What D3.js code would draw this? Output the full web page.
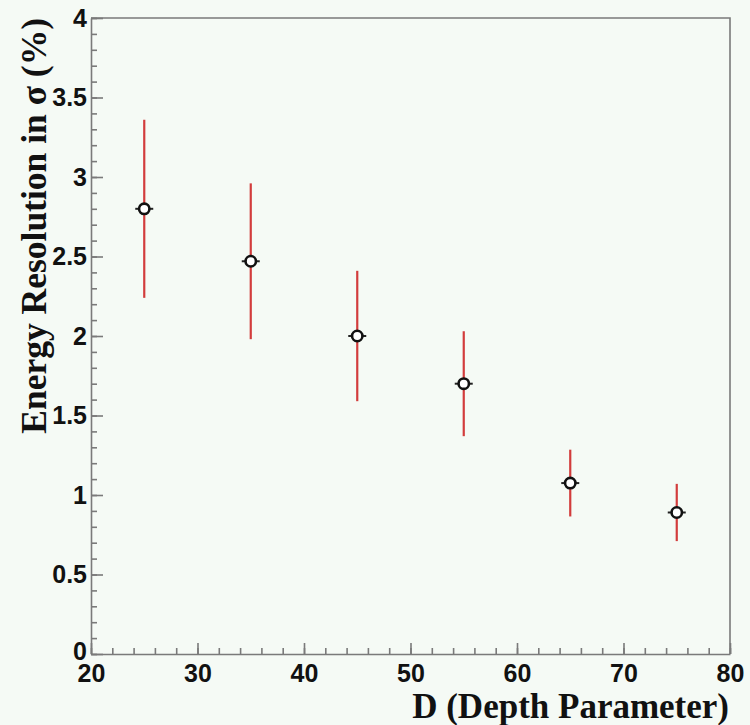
<!DOCTYPE html>
<html>
<head>
<meta charset="utf-8">
<script src="https://cdn.jsdelivr.net/npm/d3@7"></script>
<style>
  html, body { margin: 0; padding: 0; background: #f5faf5; }
  svg { display: block; }
</style>
</head>
<body>
<svg id="chart"></svg>
<script>
// values
var depth = [25, 35, 45, 55, 65, 75];
var resolution = [2.80, 2.47, 2.00, 1.70, 1.075, 0.89];
var resolutionError = [0.56, 0.49, 0.41, 0.33, 0.21, 0.18];

var xMajorTicks = [20, 30, 40, 50, 60, 70, 80];
var yMajorTicks = [0, 0.5, 1, 1.5, 2, 2.5, 3, 3.5, 4];

var xlabel = "D (Depth Parameter)",
    ylabel = "Energy Resolution in \u03c3 (%)";

var width = 750,
    height = 725,
    margin = {top: 18, right: 20, bottom: 71, left: 91},
    innerwidth = width - margin.left - margin.right,
    innerheight = height - margin.top - margin.bottom;

var x = d3.scaleLinear().domain([20, 80]).range([0, innerwidth]);
var y = d3.scaleLinear().domain([0, 4]).range([innerheight, 0]);

var svg = d3.select("#chart")
    .attr("width", width)
    .attr("height", height);

var g = svg.append("g")
    .attr("transform", "translate(" + margin.left + "," + margin.top + ")");

// frame (top and right)
g.append("path")
    .attr("d", "M0,0H" + innerwidth + "V" + innerheight)
    .attr("fill", "none")
    .attr("stroke", "#7a7a7a")
    .attr("stroke-width", 1.6);

// minor ticks
g.append("g")
    .attr("class", "y minor")
    .call(d3.axisLeft(y).tickValues(d3.range(0, 4.001, 0.1)).tickSize(-6).tickFormat(""))
    .call(function(s) { s.select(".domain").remove(); });

g.append("g")
    .attr("class", "x minor")
    .attr("transform", "translate(0," + innerheight + ")")
    .call(d3.axisBottom(x).tickValues(d3.range(20, 80.001, 2)).tickSize(-6).tickFormat(""))
    .call(function(s) { s.select(".domain").remove(); });

// major ticks and labels
g.append("g")
    .attr("class", "y axis")
    .call(d3.axisLeft(y).tickValues(yMajorTicks).tickSize(-12).tickSizeOuter(0).tickPadding(4).tickFormat(d3.format("")));

g.append("g")
    .attr("class", "x axis")
    .attr("transform", "translate(0," + innerheight + ")")
    .call(d3.axisBottom(x).tickValues(xMajorTicks).tickSize(-11).tickSizeOuter(0).tickPadding(10).tickFormat(d3.format("")));

g.selectAll(".minor line, .axis line, .axis .domain")
    .attr("stroke", "#7a7a7a")
    .attr("stroke-width", 1.6);

g.selectAll(".axis text")
    .attr("fill", "#111")
    .style("font-family", "'Liberation Sans', Arial, sans-serif")
    .style("font-weight", "bold")
    .style("font-size", "25px");

// "0" sits just above the x labels, as in the original
g.selectAll(".y.axis .tick text")
    .filter(function(d) { return d === 0; })
    .attr("dy", "0.2em");

// axis titles
svg.append("text")
    .attr("x", margin.left + innerwidth - 1)
    .attr("y", 718)
    .attr("text-anchor", "end")
    .style("font-family", "'Liberation Serif', 'Times New Roman', serif")
    .style("font-weight", "bold")
    .style("font-size", "35px")
    .attr("fill", "#111")
    .text(xlabel);

svg.append("text")
    .attr("transform", "translate(46," + margin.top + ") rotate(-90)")
    .attr("text-anchor", "end")
    .style("font-family", "'Liberation Serif', 'Times New Roman', serif")
    .style("font-weight", "bold")
    .style("font-size", "35.5px")
    .attr("fill", "#111")
    .text(ylabel);

// data points
var points = g.selectAll(".point")
    .data(depth.map(function(d, i) { return {d: d, r: resolution[i], e: resolutionError[i]}; }))
    .enter().append("g")
    .attr("class", "point");

points.append("line")
    .attr("x1", function(p) { return x(p.d); })
    .attr("x2", function(p) { return x(p.d); })
    .attr("y1", function(p) { return y(p.r - p.e); })
    .attr("y2", function(p) { return y(p.r + p.e); })
    .attr("stroke", "#d23c3c")
    .attr("stroke-width", 2.2);

points.append("line")
    .attr("x1", function(p) { return x(p.d) - 9; })
    .attr("x2", function(p) { return x(p.d) + 9; })
    .attr("y1", function(p) { return y(p.r); })
    .attr("y2", function(p) { return y(p.r); })
    .attr("stroke", "#222")
    .attr("stroke-width", 2);

points.append("circle")
    .attr("cx", function(p) { return x(p.d); })
    .attr("cy", function(p) { return y(p.r); })
    .attr("r", 5.2)
    .attr("fill", "#fff")
    .attr("stroke", "#111")
    .attr("stroke-width", 2.6);
</script>
</body>
</html>
